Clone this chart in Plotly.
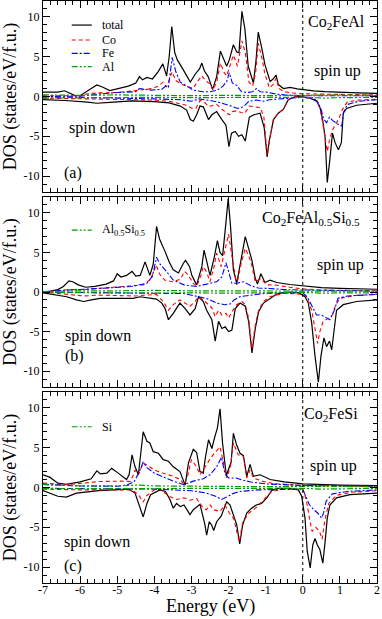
import plotly.graph_objects as go

# ---------------- axis values ----------------
ENERGY_RANGE = [-7, 2]
DOS_RANGE = [-12, 12]
X_TICKS = [-7, -6, -5, -4, -3, -2, -1, 0, 1, 2]
X_TICK_TEXT = ["-7", "-6", "-5", "-4", "-3", "-2", "-1", "0", "1", "2"]
Y_TICKS = [-10, -5, 0, 5, 10]
Y_TICK_TEXT = ["-10", "-5", "0", "5", "10"]
E_FERMI = 0

PANEL_TITLES = ["Co<sub>2</sub>FeAl", "Co<sub>2</sub>FeAl<sub>0.5</sub>Si<sub>0.5</sub>", "Co<sub>2</sub>FeSi"]
PANEL_LABELS = ["(a)", "(b)", "(c)"]
SP_NAMES = ["Al", "Al<sub>0.5</sub>Si<sub>0.5</sub>", "Si"]

# ---------------- panel (a) Co2FeAl : (energy eV, DOS) ----------------
a_total_up = [(-7.0, 0.55), (-6.6, 0.55), (-6.42, 0.72), (-6.3, 0.5), (-6.15, 0.15), (-6.0, 0.1), (-5.85, 0.6),
              (-5.7, 1.0), (-5.55, 1.45), (-5.4, 1.2), (-5.2, 0.75), (-5.05, 0.9), (-4.9, 1.05), (-4.7, 1.3),
              (-4.5, 1.7), (-4.4, 2.5), (-4.32, 2.1), (-4.2, 2.4), (-4.05, 2.2), (-3.9, 3.1), (-3.77, 4.1),
              (-3.67, 2.6), (-3.6, 5.0), (-3.53, 8.8), (-3.45, 5.5), (-3.38, 4.6), (-3.25, 3.6), (-3.13, 2.7),
              (-3.03, 1.8), (-2.9, 2.8), (-2.78, 3.5), (-2.72, 4.2), (-2.65, 3.2), (-2.55, 2.5), (-2.43, 0.9),
              (-2.32, 2.5), (-2.22, 5.7), (-2.14, 4.8), (-2.05, 3.8), (-1.98, 4.6), (-1.87, 6.5), (-1.78, 5.6),
              (-1.72, 5.5), (-1.64, 10.7), (-1.56, 8.5), (-1.47, 3.8), (-1.33, 1.7), (-1.26, 4.5), (-1.2, 8.1),
              (-1.11, 6.2), (-1.02, 4.0), (-0.88, 1.9), (-0.8, 2.2), (-0.72, 2.7), (-0.66, 1.5), (-0.52, 1.0),
              (-0.34, 1.15), (-0.15, 0.95), (0.0, 0.85), (0.3, 0.7), (0.6, 0.6), (1.0, 0.5), (1.5, 0.45), (2.0, 0.4)]
a_total_dn = [(-7.0, -0.4), (-6.4, -0.5), (-5.8, -0.7), (-5.55, -0.85), (-5.2, -0.75), (-4.6, -0.55), (-4.0, -0.65),
              (-3.6, -0.8), (-3.3, -1.2), (-3.13, -1.7), (-3.03, -2.9), (-2.95, -3.1), (-2.86, -2.3), (-2.77, -1.2),
              (-2.68, -1.3), (-2.54, -2.9), (-2.45, -2.3), (-2.32, -1.9), (-2.18, -2.9), (-2.07, -3.6), (-1.99, -6.3),
              (-1.92, -4.6), (-1.82, -4.4), (-1.73, -5.0), (-1.64, -4.8), (-1.55, -5.6), (-1.44, -2.6), (-1.32, -2.3),
              (-1.15, -2.1), (-1.04, -3.9), (-0.96, -7.6), (-0.9, -5.5), (-0.79, -2.9), (-0.66, -2.1), (-0.52, -1.6),
              (-0.39, -0.4), (-0.2, 0.0), (0.0, -0.05), (0.2, -0.2), (0.38, -0.6), (0.47, -1.5), (0.53, -2.8),
              (0.6, -5.0), (0.66, -10.8), (0.73, -7.9), (0.8, -4.6), (0.87, -5.8), (0.96, -6.7), (1.04, -5.8),
              (1.09, -2.1), (1.18, -1.5), (1.45, -1.1), (2.0, -0.85)]
a_co_up = [(-7.0, 0.1), (-6.4, 0.15), (-6.0, 0.1), (-5.8, 0.35), (-5.5, 0.45), (-5.0, 0.5), (-4.6, 0.65), (-4.4, 0.8),
           (-4.05, 1.0), (-3.9, 1.3), (-3.76, 1.8), (-3.67, 1.2), (-3.52, 3.1), (-3.42, 2.0), (-3.25, 1.5),
           (-3.1, 1.2), (-2.95, 1.0), (-2.85, 1.8), (-2.72, 2.6), (-2.6, 1.9), (-2.5, 1.6), (-2.42, 0.8),
           (-2.32, 1.8), (-2.22, 4.2), (-2.12, 3.0), (-2.05, 2.6), (-1.98, 3.6), (-1.87, 5.2), (-1.76, 3.8),
           (-1.64, 7.0), (-1.55, 5.5), (-1.45, 1.8), (-1.35, 1.3), (-1.27, 3.0), (-1.2, 6.7), (-1.1, 4.8),
           (-1.02, 2.8), (-0.9, 1.1), (-0.8, 1.5), (-0.72, 2.3), (-0.64, 1.0), (-0.5, 0.6), (-0.3, 0.45),
           (0.0, 0.35), (0.5, 0.3), (1.0, 0.25), (2.0, 0.2)]
a_co_dn = [(-7.0, -0.2), (-6.0, -0.3), (-5.0, -0.35), (-4.0, -0.45), (-3.6, -0.6), (-3.3, -0.9), (-3.13, -1.1),
           (-2.98, -1.5), (-2.88, -1.5), (-2.77, -0.5), (-2.65, -0.7), (-2.54, -1.25), (-2.4, -1.1), (-2.32, -1.0),
           (-2.18, -1.6), (-2.05, -2.1), (-1.98, -2.3), (-1.9, -1.9), (-1.78, -1.8), (-1.66, -2.0), (-1.56, -2.1),
           (-1.44, -1.2), (-1.3, -1.3), (-1.15, -1.4), (-1.05, -2.5), (-0.96, -7.3), (-0.9, -5.5), (-0.79, -2.9),
           (-0.66, -2.1), (-0.52, -1.6), (-0.39, -0.4), (-0.2, -0.05), (0.0, -0.05), (0.3, -0.3), (0.4, -0.6),
           (0.47, -1.6), (0.55, -3.7), (0.61, -5.5), (0.66, -6.9), (0.72, -5.5), (0.8, -4.2), (0.9, -3.4),
           (0.98, -2.7), (1.07, -1.6), (1.2, -0.7), (1.5, -0.45), (2.0, -0.35)]
a_fe_up = [(-7.0, 0.0), (-6.0, 0.05), (-5.5, 0.3), (-5.0, 0.5), (-4.5, 0.6), (-4.4, 1.0), (-4.1, 0.8), (-3.8, 0.9),
           (-3.7, 1.3), (-3.62, 1.2), (-3.52, 4.9), (-3.42, 3.1), (-3.3, 1.8), (-3.1, 1.2), (-2.95, 0.8),
           (-2.7, 0.6), (-2.5, 0.6), (-2.3, 0.8), (-2.15, 1.3), (-2.05, 1.9), (-1.98, 3.0), (-1.9, 1.7),
           (-1.78, 1.4), (-1.65, 0.6), (-1.5, 0.5), (-1.35, 0.6), (-1.25, 1.0), (-1.15, 0.6), (-0.98, 0.55),
           (-0.7, 0.3), (-0.5, 0.2), (0.0, 0.1), (2.0, 0.1)]
a_fe_dn = [(-7.0, -0.05), (-6.0, -0.1), (-5.0, -0.2), (-4.0, -0.3), (-3.3, -0.4), (-3.0, -0.6), (-2.8, -0.3),
           (-2.5, -0.5), (-2.2, -0.8), (-2.0, -1.1), (-1.85, -1.4), (-1.75, -1.5), (-1.6, -1.3), (-1.45, -0.6),
           (-1.25, -0.45), (-1.05, -0.6), (-0.9, -0.4), (-0.6, -0.3), (-0.3, -0.15), (0.0, -0.1), (0.3, -0.3),
           (0.42, -0.8), (0.5, -1.7), (0.56, -2.8), (0.64, -3.3), (0.72, -2.6), (0.8, -3.0), (0.9, -3.4),
           (0.98, -3.6), (1.05, -3.7), (1.1, -2.0), (1.2, -1.0), (1.5, -0.6), (2.0, -0.4)]
a_sp_up = [(-7.0, 0.2), (-6.0, 0.15), (-5.0, 0.2), (-4.0, 0.15), (-3.0, 0.1), (-2.0, 0.15), (-1.0, 0.1),
           (0.0, 0.15), (1.0, 0.2), (2.0, 0.15)]
a_sp_dn = [(-7.0, -0.2), (-6.0, -0.15), (-5.0, -0.1), (-4.0, -0.1), (-3.0, -0.15), (-2.0, -0.1), (-1.0, -0.1),
           (0.0, -0.1), (0.6, -0.2), (1.0, -0.15), (2.0, -0.1)]

# ---------------- panel (b) Co2FeAl0.5Si0.5 ----------------
b_total_up = [(-7.0, 0.0), (-6.8, 0.1), (-6.6, 0.3), (-6.45, 0.7), (-6.3, 1.4), (-6.2, 1.3), (-6.05, 0.9),
              (-5.85, 0.6), (-5.6, 0.7), (-5.3, 1.0), (-5.1, 1.4), (-5.0, 2.3), (-4.9, 1.9), (-4.75, 2.1),
              (-4.6, 2.6), (-4.5, 2.0), (-4.38, 2.1), (-4.25, 3.8), (-4.12, 2.1), (-4.03, 3.5), (-3.94, 8.3),
              (-3.86, 6.7), (-3.71, 5.1), (-3.6, 3.8), (-3.49, 2.8), (-3.35, 2.4), (-3.22, 3.6), (-3.16, 4.0),
              (-3.05, 3.2), (-2.99, 2.1), (-2.86, 0.9), (-2.72, 3.2), (-2.66, 5.3), (-2.59, 3.8), (-2.5, 2.1),
              (-2.38, 4.5), (-2.3, 6.5), (-2.23, 5.0), (-2.16, 4.6), (-2.07, 8.8), (-2.01, 11.8), (-1.95, 8.5),
              (-1.87, 2.8), (-1.78, 1.1), (-1.64, 4.9), (-1.55, 7.0), (-1.46, 5.5), (-1.37, 4.0), (-1.28, 1.7),
              (-1.22, 1.0), (-1.13, 2.3), (-1.02, 1.2), (-0.88, 1.5), (-0.7, 1.2), (-0.35, 0.95), (0.0, 0.75),
              (0.5, 0.55), (1.0, 0.45), (1.5, 0.38), (2.0, 0.35)]
b_total_dn = [(-7.0, -0.1), (-6.7, -0.3), (-6.36, -0.6), (-6.1, -1.0), (-5.9, -1.2), (-5.7, -1.0), (-5.46, -0.8),
              (-4.57, -0.8), (-4.385, -0.6), (-3.94, -0.9), (-3.8, -1.4), (-3.71, -2.1), (-3.62, -3.5),
              (-3.49, -2.7), (-3.31, -1.4), (-3.17, -2.1), (-3.04, -2.9), (-2.9, -2.1), (-2.81, -0.6), (-2.68, -1.2),
              (-2.59, -2.3), (-2.45, -3.5), (-2.36, -6.2), (-2.27, -3.7), (-2.18, -4.6), (-2.09, -4.4),
              (-2.0, -5.0), (-1.91, -4.8), (-1.82, -2.1), (-1.69, -1.4), (-1.55, -1.8), (-1.46, -3.7),
              (-1.37, -7.7), (-1.28, -4.6), (-1.19, -2.5), (-1.06, -1.4), (-0.88, -0.8), (-0.7, -0.25),
              (-0.5, -0.05), (-0.3, 0.0), (-0.1, -0.1), (0.0, -0.35), (0.06, -0.6), (0.15, -1.4), (0.24, -3.9),
              (0.33, -8.1), (0.42, -11.4), (0.49, -8.1), (0.57, -5.8), (0.64, -6.9), (0.72, -6.2), (0.78, -7.3),
              (0.84, -4.8), (0.91, -2.3), (1.09, -1.6), (1.45, -1.2), (2.0, -1.0)]
b_co_up = [(-7.0, 0.0), (-6.6, 0.15), (-6.3, 0.3), (-5.9, 0.3), (-5.5, 0.45), (-5.0, 0.7), (-4.6, 0.85),
           (-4.3, 0.9), (-4.1, 1.6), (-3.95, 3.4), (-3.85, 2.2), (-3.72, 1.5), (-3.5, 1.3), (-3.3, 1.6),
           (-3.18, 2.6), (-3.1, 2.2), (-2.95, 1.1), (-2.86, 0.7), (-2.75, 2.0), (-2.68, 3.2), (-2.59, 2.5),
           (-2.5, 1.3), (-2.4, 3.0), (-2.32, 4.9), (-2.2, 3.2), (-2.1, 5.2), (-2.0, 7.3), (-1.91, 4.6),
           (-1.78, 0.9), (-1.66, 3.6), (-1.55, 5.5), (-1.46, 4.6), (-1.38, 3.5), (-1.28, 1.3), (-1.13, 1.7),
           (-0.97, 0.9), (-0.7, 0.85), (-0.35, 0.6), (0.0, 0.4), (0.5, 0.25), (1.0, 0.2), (2.0, 0.15)]
b_co_dn = [(-7.0, 0.0), (-6.4, -0.25), (-5.9, -0.5), (-5.5, -0.4), (-4.5, -0.5), (-3.95, -0.3), (-3.76, -1.2),
           (-3.62, -2.3), (-3.49, -1.6), (-3.31, -1.0), (-3.17, -1.4), (-3.04, -1.8), (-2.9, -1.2), (-2.81, -0.6),
           (-2.68, -1.0), (-2.54, -1.6), (-2.45, -2.0), (-2.36, -3.1), (-2.27, -2.3), (-2.18, -2.9),
           (-2.07, -2.7), (-2.0, -3.3), (-1.91, -2.5), (-1.78, -1.6), (-1.64, -1.2), (-1.55, -1.6),
           (-1.46, -3.3), (-1.37, -7.1), (-1.28, -4.2), (-1.19, -2.3), (-1.06, -1.2), (-0.88, -0.6),
           (-0.5, -0.15), (0.0, -0.3), (0.1, -0.6), (0.24, -2.3), (0.33, -4.8), (0.4, -6.5), (0.46, -5.0),
           (0.55, -3.7), (0.7, -3.3), (0.8, -2.9), (0.88, -1.7), (1.0, -0.8), (1.4, -0.45), (2.0, -0.3)]
b_fe_up = [(-7.0, 0.0), (-6.5, 0.2), (-5.5, 0.45), (-4.6, 0.7), (-4.2, 1.1), (-4.05, 2.0), (-3.94, 4.4),
           (-3.86, 3.6), (-3.71, 2.8), (-3.49, 1.5), (-3.2, 0.9), (-2.86, 0.7), (-2.68, 0.9), (-2.5, 1.1),
           (-2.32, 1.3), (-2.18, 1.9), (-2.07, 3.7), (-2.0, 2.6), (-1.91, 1.1), (-1.78, 1.1), (-1.6, 1.3),
           (-1.4, 0.8), (-1.2, 0.5), (-0.9, 0.45), (-0.5, 0.3), (0.0, 0.25), (2.0, 0.12)]
b_fe_dn = [(-7.0, 0.0), (-5.0, -0.15), (-4.0, -0.2), (-3.2, -0.2), (-2.6, -0.8), (-2.32, -1.4), (-2.1, -1.6),
           (-1.95, -1.5), (-1.85, -1.0), (-1.7, -0.6), (-1.4, -0.4), (-1.0, -0.15), (0.0, -0.1), (0.12, -0.6),
           (0.25, -1.8), (0.37, -2.9), (0.5, -2.9), (0.6, -3.2), (0.73, -3.5), (0.85, -2.3), (0.95, -0.8),
           (1.2, -0.5), (2.0, -0.3)]
b_sp_up = [(-7.0, 0.05), (-6.0, 0.15), (-5.0, 0.15), (-4.0, 0.2), (-3.0, 0.15), (-2.0, 0.15), (-1.0, 0.1),
           (0.0, 0.1), (1.0, 0.15), (2.0, 0.1)]
b_sp_dn = [(-7.0, -0.05), (-6.0, -0.1), (-5.0, -0.1), (-4.0, -0.15), (-3.0, -0.1), (-2.0, -0.15), (-1.0, -0.1),
           (0.0, -0.05), (0.5, -0.15), (1.0, -0.1), (2.0, -0.1)]

# ---------------- panel (c) Co2FeSi ----------------
c_total_up = [(-7.0, 1.6), (-6.82, 1.3), (-6.6, 0.55), (-6.37, 0.4), (-6.0, 0.7), (-5.7, 1.1), (-5.55, 2.1),
              (-5.45, 1.7), (-5.28, 1.8), (-5.15, 2.4), (-5.0, 1.9), (-4.85, 1.4), (-4.75, 1.0), (-4.68, 1.6),
              (-4.6, 4.1), (-4.52, 2.6), (-4.43, 1.6), (-4.3, 7.0), (-4.2, 5.8), (-4.12, 5.6), (-4.03, 4.5),
              (-3.89, 4.3), (-3.76, 3.5), (-3.62, 3.3), (-3.49, 2.6), (-3.31, 2.0), (-3.17, 0.3), (-3.08, 3.1),
              (-2.95, 4.8), (-2.86, 4.4), (-2.77, 2.0), (-2.68, 1.8), (-2.63, 3.6), (-2.54, 6.0), (-2.45, 4.9),
              (-2.38, 6.2), (-2.3, 7.5), (-2.23, 9.9), (-2.16, 5.5), (-2.06, 1.5), (-1.93, 3.2), (-1.87, 6.8),
              (-1.78, 5.3), (-1.69, 4.3), (-1.6, 4.0), (-1.51, 1.4), (-1.42, 2.9), (-1.33, 1.4), (-1.15, 1.6),
              (-0.88, 1.0), (-0.5, 0.7), (0.0, 0.45), (1.0, 0.3), (2.0, 0.25)]
c_total_dn = [(-7.0, -0.4), (-6.6, -1.1), (-6.37, -1.2), (-6.1, -0.7), (-5.5, -0.4), (-5.0, -0.3), (-4.7, -0.2),
              (-4.52, -0.7), (-4.43, -2.0), (-4.34, -3.2), (-4.3, -3.7), (-4.2, -2.0), (-4.1, -0.9), (-3.85, -0.3),
              (-3.7, -0.5), (-3.58, -1.5), (-3.49, -2.6), (-3.4, -2.0), (-3.3, -2.4), (-3.2, -2.2), (-3.04, -3.4),
              (-2.95, -2.8), (-2.77, -2.1), (-2.64, -4.6), (-2.59, -6.0), (-2.52, -4.3), (-2.46, -4.7),
              (-2.4, -5.4), (-2.32, -4.3), (-2.2, -3.6), (-2.05, -1.8), (-1.96, -2.2), (-1.87, -3.4),
              (-1.78, -4.7), (-1.7, -7.1), (-1.62, -4.7), (-1.51, -3.2), (-1.38, -2.6), (-1.25, -2.2),
              (-1.11, -2.0), (-0.97, -1.3), (-0.84, -0.4), (-0.7, -0.1), (-0.34, -0.1), (-0.12, -0.3),
              (-0.03, -1.1), (0.06, -3.85), (0.12, -8.0), (0.2, -10.1), (0.27, -7.2), (0.33, -6.4), (0.39, -7.2),
              (0.46, -7.8), (0.54, -9.5), (0.6, -6.9), (0.66, -3.85), (0.73, -2.2), (0.91, -1.3), (1.27, -0.9),
              (2.0, -0.7)]
c_co_up = [(-7.0, 0.55), (-6.4, 0.35), (-5.9, 0.55), (-5.5, 0.75), (-4.9, 0.8), (-4.65, 0.75), (-4.58, 1.4),
           (-4.52, 2.2), (-4.43, 1.6), (-4.3, 3.1), (-4.2, 2.8), (-4.0, 2.2), (-3.76, 1.8), (-3.49, 1.4),
           (-3.3, 1.0), (-3.2, 0.35), (-3.1, 1.5), (-3.0, 3.5), (-2.86, 2.6), (-2.77, 1.6), (-2.6, 2.8),
           (-2.5, 3.6), (-2.4, 4.2), (-2.23, 5.1), (-2.14, 3.2), (-2.05, 1.2), (-1.95, 2.6), (-1.87, 5.6),
           (-1.74, 4.1), (-1.6, 3.9), (-1.51, 1.2), (-1.42, 2.2), (-1.33, 1.2), (-1.1, 0.8), (-0.8, 0.5),
           (0.0, 0.25), (2.0, 0.1)]
c_co_dn = [(-7.0, -0.2), (-6.0, -0.3), (-5.0, -0.3), (-4.6, -0.3), (-4.43, -0.9), (-4.3, -1.8), (-4.2, -1.0),
           (-4.0, -0.3), (-3.85, -0.2), (-3.6, -1.1), (-3.4, -1.5), (-3.2, -1.3), (-3.04, -1.6), (-2.86, -1.4),
           (-2.68, -2.6), (-2.6, -2.8), (-2.5, -2.2), (-2.4, -2.8), (-2.23, -3.0), (-2.1, -2.2), (-1.98, -3.2),
           (-1.86, -3.9), (-1.78, -5.5), (-1.71, -6.8), (-1.62, -4.4), (-1.45, -3.2), (-1.25, -2.5),
           (-1.0, -1.2), (-0.84, -0.5), (-0.5, -0.2), (0.0, -0.2), (0.06, -1.0), (0.12, -2.2), (0.18, -3.85),
           (0.25, -5.5), (0.35, -5.0), (0.45, -5.5), (0.52, -6.5), (0.6, -4.0), (0.7, -2.0), (0.9, -1.0),
           (1.3, -0.6), (2.0, -0.4)]
c_fe_up = [(-7.0, 0.4), (-6.0, 0.2), (-5.0, 0.15), (-4.75, 0.3), (-4.55, 0.7), (-4.4, 2.0), (-4.3, 3.2),
           (-4.2, 2.5), (-4.0, 1.8), (-3.76, 1.3), (-3.49, 0.8), (-3.2, 0.35), (-2.95, 0.8), (-2.68, 1.1),
           (-2.5, 1.6), (-2.32, 2.6), (-2.19, 3.8), (-2.1, 1.8), (-2.0, 1.2), (-1.8, 1.2), (-1.6, 0.9),
           (-1.4, 0.7), (-1.0, 0.45), (0.0, 0.25), (2.0, 0.15)]
c_fe_dn = [(-7.0, -0.1), (-5.0, -0.2), (-4.0, -0.2), (-3.0, -0.4), (-2.6, -0.7), (-2.35, -1.1), (-2.19, -1.5),
           (-2.05, -1.2), (-1.9, -0.8), (-1.7, -0.5), (-1.2, -0.3), (0.0, -0.2), (0.06, -0.9), (0.18, -2.2),
           (0.3, -2.8), (0.4, -3.2), (0.51, -3.85), (0.56, -3.2), (0.63, -1.7), (0.8, -0.8), (1.2, -0.5),
           (2.0, -0.3)]
c_sp_up = [(-7.0, 0.35), (-6.0, 0.2), (-5.0, 0.2), (-4.4, 0.3), (-4.0, 0.2), (-3.0, 0.15), (-2.0, 0.15),
           (-1.0, 0.1), (0.0, 0.15), (1.0, 0.15), (2.0, 0.1)]
c_sp_dn = [(-7.0, -0.15), (-6.0, -0.15), (-5.0, -0.1), (-4.0, -0.1), (-3.0, -0.15), (-2.0, -0.15), (-1.0, -0.1),
           (0.0, -0.1), (0.5, -0.2), (1.0, -0.15), (2.0, -0.1)]

# ---------------- styles ----------------
FONT = "Liberation Serif"
STYLES = {
    "total": dict(color="black", width=1.2, dash="solid"),
    "co": dict(color="#ff0000", width=1.1, dash="4px,3px"),
    "fe": dict(color="#0000ff", width=1.1, dash="6px,2px,2px,2px"),
    "sp": dict(color="#00a000", width=1.2, dash="6px,2px,2px,2px,2px,2px"),
}

panels = [
    dict(total=(a_total_up, a_total_dn), co=(a_co_up, a_co_dn), fe=(a_fe_up, a_fe_dn), sp=(a_sp_up, a_sp_dn)),
    dict(total=(b_total_up, b_total_dn), co=(b_co_up, b_co_dn), fe=(b_fe_up, b_fe_dn), sp=(b_sp_up, b_sp_dn)),
    dict(total=(c_total_up, c_total_dn), co=(c_co_up, c_co_dn), fe=(c_fe_up, c_fe_dn), sp=(c_sp_up, c_sp_dn)),
]

W, H = 382, 619
ML, MR, MT, MB = 43, 5, 1, 36
PH = H - MT - MB
# panel pixel extents (top, bottom) measured from top of figure
PANEL_PX = [(1, 192), (197, 387), (392, 583)]
domains = [[1 - (b - MT) / PH, 1 - (t - MT) / PH] for t, b in PANEL_PX]

fig = go.Figure()
for i, p in enumerate(panels):
    xa = "x" if i == 0 else f"x{i+1}"
    ya = "y" if i == 0 else f"y{i+1}"
    for key in ["total", "co", "fe", "sp"]:
        for pts in p[key]:
            fig.add_trace(go.Scatter(
                x=[q[0] for q in pts], y=[q[1] for q in pts], mode="lines",
                line=STYLES[key], xaxis=xa, yaxis=ya, showlegend=False, hoverinfo="skip"))

axis_common = dict(showline=True, linecolor="black", linewidth=1, mirror="ticks",
                   ticks="inside", ticklen=7, tickwidth=1, tickcolor="black",
                   showgrid=False, zeroline=False,
                   tickfont=dict(family=FONT, size=12, color="black"))

layout = dict(width=W, height=H, margin=dict(l=ML, r=MR, t=MT, b=MB),
              paper_bgcolor="white", plot_bgcolor="white", showlegend=False,
              font=dict(family=FONT, color="black"))
for i in range(3):
    xk = "xaxis" if i == 0 else f"xaxis{i+1}"
    yk = "yaxis" if i == 0 else f"yaxis{i+1}"
    ya = "y" if i == 0 else f"y{i+1}"
    xa = "x" if i == 0 else f"x{i+1}"
    xd = dict(axis_common, range=ENERGY_RANGE, tickvals=X_TICKS, ticktext=X_TICK_TEXT,
              minor=dict(dtick=0.2, ticks="inside", ticklen=4, tickcolor="black", showgrid=False),
              anchor=ya, domain=[0, 1], showticklabels=(i == 2), ticklabelstandoff=-4)
    yd = dict(axis_common, range=DOS_RANGE, tickvals=Y_TICKS, ticktext=Y_TICK_TEXT,
              minor=dict(dtick=1, ticks="inside", ticklen=4, tickcolor="black", showgrid=False),
              anchor=xa, domain=domains[i],
              title=dict(text="DOS (states/eV/f.u.)", font=dict(family=FONT, size=18, color="black"), standoff=4))
    layout[xk] = xd
    layout[yk] = yd
fig.update_layout(**layout)

# x axis title (bottom panel)
fig.add_annotation(xref="paper", yref="paper", x=0.5, y=(583 - 606) / PH, text="Energy (eV)", showarrow=False,
                   xanchor="center", yanchor="middle", font=dict(family=FONT, size=18, color="black"))

# Fermi level dotted lines
for i in range(3):
    xa = "x" if i == 0 else f"x{i+1}"
    ya = "y" if i == 0 else f"y{i+1}"
    fig.add_shape(type="line", xref=xa, yref=f"{ya} domain", x0=E_FERMI, x1=E_FERMI, y0=0, y1=1,
                  line=dict(color="black", width=1, dash="dot"))

def ann(i, text, x, y, size, xanchor="left"):
    xa = "x" if i == 0 else f"x{i+1}"
    ya = "y" if i == 0 else f"y{i+1}"
    fig.add_annotation(xref=f"{xa} domain", yref=f"{ya} domain", x=x, y=y, text=text, showarrow=False,
                       xanchor=xanchor, yanchor="middle", font=dict(family=FONT, size=size, color="black"))

def legend_item(i, key, text, y):
    xa = "x" if i == 0 else f"x{i+1}"
    ya = "y" if i == 0 else f"y{i+1}"
    fig.add_shape(type="line", xref=f"{xa} domain", yref=f"{ya} domain", x0=0.086, x1=0.146, y0=y, y1=y,
                  line=STYLES[key])
    ann(i, text, 0.172, y, 12)

# panel texts
title_pos = [(0.787, 0.89), (0.65, 0.889), (0.775, 0.88)]
spinup_pos = [(0.804, 0.633), (0.814, 0.642), (0.793, 0.613)]
spindn_pos = [(0.071, 0.335), (0.06, 0.268), (0.056, 0.215)]
label_pos = [(0.056, 0.10), (0.06, 0.163), (0.056, 0.089)]
for i in range(3):
    ann(i, PANEL_TITLES[i], *title_pos[i], 16)
    ann(i, "spin up", *spinup_pos[i], 16)
    ann(i, "spin down", *spindn_pos[i], 16)
    ann(i, PANEL_LABELS[i], *label_pos[i], 16)

legend_item(0, "total", "total", 0.874)
legend_item(0, "co", "Co", 0.796)
legend_item(0, "fe", "Fe", 0.726)
legend_item(0, "sp", SP_NAMES[0], 0.656)
legend_item(1, "sp", SP_NAMES[1], 0.826)
legend_item(2, "sp", SP_NAMES[2], 0.818)

fig.write_html("out.html", config={"displayModeBar": False},
               post_script="document.body.style.margin='0';")
